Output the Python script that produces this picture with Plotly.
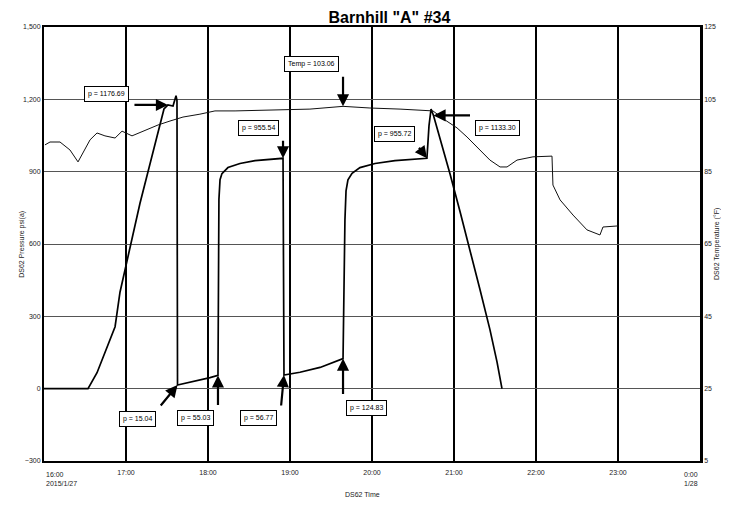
import plotly.graph_objects as go

# ---------------- data ----------------
p_time = ["2015-01-27 16:00:00", "2015-01-27 16:32:12", "2015-01-27 16:38:48", "2015-01-27 16:44:36",
          "2015-01-27 16:52:00", "2015-01-27 16:55:36", "2015-01-27 17:02:54", "2015-01-27 17:10:12",
          "2015-01-27 17:16:06", "2015-01-27 17:21:12", "2015-01-27 17:24:54", "2015-01-27 17:27:48",
          "2015-01-27 17:30:42", "2015-01-27 17:34:24", "2015-01-27 17:36:36", "2015-01-27 17:37:18",
          "2015-01-27 17:37:42", "2015-01-27 17:46:48", "2015-01-27 17:54:06", "2015-01-27 18:01:30",
          "2015-01-27 18:07:18", "2015-01-27 18:08:00", "2015-01-27 18:08:48", "2015-01-27 18:10:12",
          "2015-01-27 18:14:36", "2015-01-27 18:23:24", "2015-01-27 18:34:24", "2015-01-27 18:45:24",
          "2015-01-27 18:54:54", "2015-01-27 18:55:36", "2015-01-27 19:07:18", "2015-01-27 19:22:00",
          "2015-01-27 19:38:48", "2015-01-27 19:40:12", "2015-01-27 19:41:00", "2015-01-27 19:42:24",
          "2015-01-27 19:45:24", "2015-01-27 19:51:12", "2015-01-27 20:02:12", "2015-01-27 20:16:48",
          "2015-01-27 20:29:18", "2015-01-27 20:40:12", "2015-01-27 20:41:42", "2015-01-27 20:43:12",
          "2015-01-27 20:45:00", "2015-01-27 20:49:48", "2015-01-27 20:57:06", "2015-01-27 21:04:24",
          "2015-01-27 21:11:42", "2015-01-27 21:19:00", "2015-01-27 21:26:18", "2015-01-27 21:31:30",
          "2015-01-27 21:35:06"]
p_psi = [0, 0, 66, 149,
         257, 400, 590, 768,
         900, 1017, 1096, 1160,
         1176.69, 1172, 1215, 1195,
         15.04, 26, 36, 46,
         55.03, 785, 867, 892,
         917, 934, 946, 951,
         955.54, 56.77, 68, 88,
         124.83, 700, 820, 866,
         893, 917, 934, 946,
         952, 955.72, 1090, 1160,
         1133.30, 1040, 890, 735,
         577, 411, 245, 110,
         0]

t_time = ["2015-01-27 16:00:42", "2015-01-27 16:04:24", "2015-01-27 16:11:42", "2015-01-27 16:19:00",
          "2015-01-27 16:24:54", "2015-01-27 16:30:00", "2015-01-27 16:33:42", "2015-01-27 16:38:48",
          "2015-01-27 16:44:36", "2015-01-27 16:52:00", "2015-01-27 16:57:06", "2015-01-27 17:04:24",
          "2015-01-27 17:13:54", "2015-01-27 17:23:24", "2015-01-27 17:32:12", "2015-01-27 17:41:42",
          "2015-01-27 17:54:06", "2015-01-27 18:05:06", "2015-01-27 18:19:48", "2015-01-27 18:38:00",
          "2015-01-27 18:56:18", "2015-01-27 19:14:36", "2015-01-27 19:38:48", "2015-01-27 19:58:30",
          "2015-01-27 20:20:30", "2015-01-27 20:41:00", "2015-01-27 20:44:36", "2015-01-27 20:53:24",
          "2015-01-27 21:02:12", "2015-01-27 21:09:30", "2015-01-27 21:16:48", "2015-01-27 21:26:18",
          "2015-01-27 21:33:42", "2015-01-27 21:38:48", "2015-01-27 21:46:06", "2015-01-27 21:57:48",
          "2015-01-27 22:11:42", "2015-01-27 22:12:24", "2015-01-27 22:17:36", "2015-01-27 22:27:06",
          "2015-01-27 22:37:18", "2015-01-27 22:46:48", "2015-01-27 22:49:00", "2015-01-27 23:00:00"]
t_degf = [92.4, 93.2, 93.2, 91.0,
          87.7, 91.5, 93.8, 95.7,
          94.9, 94.3, 96.2, 94.9,
          96.5, 97.9, 99.0, 100.1,
          100.9, 101.8, 101.8, 102.0,
          102.0, 102.3, 103.06, 102.6,
          102.3, 102.0, 101.8, 99.3,
          97.1, 94.6, 91.8, 88.2,
          86.3, 86.3, 88.2, 89.1,
          89.3, 81.3, 77.2, 73.0,
          68.9, 67.5, 69.7, 70.0]

# annotated readings
ann_labels = ["p = 1176.69", "Temp = 103.06", "p = 955.54", "p = 955.72", "p = 1133.30",
              "p = 15.04", "p = 55.03", "p = 56.77", "p = 124.83"]
ann_time = ["2015-01-27 17:30:42", "2015-01-27 19:38:48", "2015-01-27 18:54:54", "2015-01-27 20:40:12",
            "2015-01-27 20:45:00", "2015-01-27 17:37:42", "2015-01-27 18:07:18", "2015-01-27 18:55:36",
            "2015-01-27 19:38:48"]
ann_value = [1176.69, 103.06, 955.54, 955.72, 1133.30, 15.04, 55.03, 56.77, 124.83]
ann_axis = ["y", "y2", "y", "y", "y", "y", "y", "y", "y"]

x_tickvals = ["2015-01-27 17:00", "2015-01-27 18:00", "2015-01-27 19:00", "2015-01-27 20:00",
              "2015-01-27 21:00", "2015-01-27 22:00", "2015-01-27 23:00"]
x_ticktext = ["17:00", "18:00", "19:00", "20:00", "21:00", "22:00", "23:00"]
x_range = ["2015-01-27 16:00", "2015-01-28 00:00"]

y_tickvals = [-300, 0, 300, 600, 900, 1200, 1500]
y2_tickvals = [5, 25, 45, 65, 85, 105, 125]

# ---------------- styling / layout positions (pixels) ----------------
arrow_off = [(-35, 0), (0, -31), (0, -19), (-9, -12), (38, 0), (-18, 22), (0, 31), (-3, 32), (0, 37)]
box_off = [(-61, 11), (-32, 42), (-25, 30), (-32, 24), (64, -13), (-40, -34), (-22, -43), (-25, -43), (23, -49)]

fig = go.Figure()
fig.add_trace(go.Scatter(x=t_time, y=t_degf, mode="lines", yaxis="y2",
                         line=dict(color="#111", width=1), name="Temp", showlegend=False))
fig.add_trace(go.Scatter(x=p_time, y=p_psi, mode="lines",
                         line=dict(color="#000", width=1.7), name="Pressure", showlegend=False))

afont = dict(family="Liberation Sans, Arial, sans-serif", size=7, color="#000")
for lab, t, v, ax_, (axo, ayo), (xs, ys) in zip(ann_labels, ann_time, ann_value, ann_axis, arrow_off, box_off):
    fig.add_annotation(x=t, y=v, xref="x", yref=ax_, text="", showarrow=True,
                       ax=axo, ay=ayo, arrowhead=2, arrowsize=1.1, arrowwidth=2.2, arrowcolor="#000")
    fig.add_annotation(x=t, y=v, xref="x", yref=ax_, text=lab, showarrow=False,
                       xshift=xs, yshift=ys, font=afont, bgcolor="#fff",
                       bordercolor="#000", borderwidth=1, borderpad=3)

tfont = dict(family="Liberation Sans, Arial, sans-serif", size=7, color="#222")
fig.add_annotation(x=0, y=-0.018, xref="paper", yref="paper", text="16:00<br>2015/1/27",
                   showarrow=False, xanchor="left", yanchor="top", align="left", font=tfont)
fig.add_annotation(x=1, y=-0.018, xref="paper", yref="paper", text="0:00<br>1/28",
                   showarrow=False, xanchor="right", yanchor="top", align="left", font=tfont)
fig.add_annotation(x=-0.043, y=0.5, xref="paper", yref="paper", text="DS62 Pressure psi(a)",
                   showarrow=False, textangle=-90, font=tfont)
fig.add_annotation(x=1.035, y=0.5, xref="paper", yref="paper", text="DS62 Temperature (°F)",
                   showarrow=False, textangle=-90, font=tfont)
fig.add_annotation(x=0.486, y=-0.078, xref="paper", yref="paper", text="DS62 Time",
                   showarrow=False, yanchor="middle", font=tfont)

# page body has an 8px margin, so the figure is 8px smaller and margins shifted
fig.update_layout(
    width=721, height=499,
    margin=dict(l=36, r=29, t=19, b=46),
    paper_bgcolor="#fff", plot_bgcolor="#fff",
    title=dict(text="<b>Barnhill \"A\" #34</b>", x=0.529, xanchor="center", y=0.981, yanchor="middle",
               font=dict(family="Liberation Sans, Arial, sans-serif", size=16, color="#000")),
    xaxis=dict(type="date", range=x_range, tickvals=x_tickvals, ticktext=x_ticktext,
               showgrid=True, gridcolor="#000", gridwidth=1.5,
               showline=True, linecolor="#000", linewidth=2, mirror=True,
               ticks="", tickfont=tfont, zeroline=False, ticklabelstandoff=4),
    yaxis=dict(range=[-300, 1500], tickvals=y_tickvals, tickformat=",",
               showgrid=True, gridcolor="#555", gridwidth=1,
               showline=True, linecolor="#000", linewidth=2, ticks="",
               tickfont=tfont, zeroline=False),
    yaxis2=dict(range=[5, 125], tickvals=y2_tickvals, overlaying="y", side="right",
                showgrid=False, showline=True, linecolor="#000", linewidth=2.5, ticks="",
                tickfont=tfont, zeroline=False),
)

fig.write_html("out.html")
